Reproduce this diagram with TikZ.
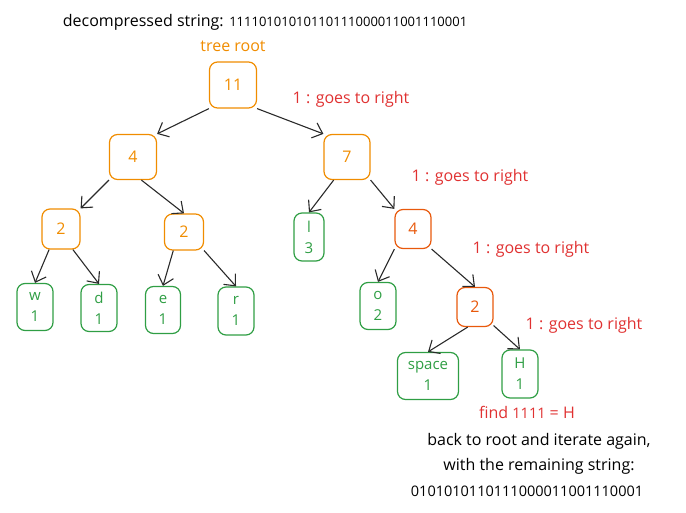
\documentclass[tikz,border=0pt]{standalone}
\usepackage{fontspec}
\setmainfont{Open Sans}
\usepackage{xcolor}
\definecolor{colorInner}{HTML}{F08C00}
\definecolor{colorPath}{HTML}{E8590C}
\definecolor{colorLeaf}{HTML}{2F9E44}
\definecolor{colorNote}{HTML}{E03131}
\definecolor{colorArrow}{HTML}{2A2A2A}
\usetikzlibrary{arrows.meta, positioning}
\newcommand{\bits}[2][14.5]{{\fontsize{#1}{17}\selectfont #2}}
\tikzset{
  box/.style={draw, rounded corners=8pt, line width=1.2pt, align=center, inner sep=0pt},
  inner/.style={box, colorInner, text=colorInner},
  path/.style={box, colorPath, text=colorPath},
  leaf/.style={box, colorLeaf, text=colorLeaf, font=\fontsize{15}{21}\selectfont},
  note/.style={text=colorNote},
}

\begin{document}
\begin{tikzpicture}[x=1pt, y=-1pt, font=\fontsize{16}{20}\selectfont,
  arr/.style={colorArrow, line width=1.1pt, -{Straight Barb[length=9pt, width=16pt]}}]
\useasboundingbox (0,0) rectangle (686,513);
% texts
\node (title) at (265,22) {decompressed string: \bits[13]{11110101010110111000011001110001}};
\node[text=colorInner] (rootlabel) at (233,46) {tree root};
% inner nodes
\node[inner, minimum width=47pt, minimum height=46pt] (n11) at (233,85) {11};
\node[inner, minimum width=47pt, minimum height=45pt] (n4a) at (133,157) {4};
\node[inner, minimum width=46pt, minimum height=45pt] (n7) at (347,157) {7};
\node[inner, minimum width=38pt, minimum height=40pt] (n2a) at (61,229) {2};
\node[inner, minimum width=39pt, minimum height=36pt] (n2b) at (184,232) {2};
\node[path, minimum width=36pt, minimum height=39pt] (n4b) at (413,229) {4};
\node[path, minimum width=36pt, minimum height=39pt] (n2c) at (475,307) {2};
% leaves
\node[leaf, minimum width=36pt, minimum height=47pt] (lw) at (35,307) {w\\1};
\node[leaf, minimum width=36pt, minimum height=47pt] (ld) at (99,308) {d\\1};
\node[leaf, minimum width=35pt, minimum height=47pt] (le) at (163,310) {e\\1};
\node[leaf, minimum width=36pt, minimum height=48pt] (lr) at (236,311) {r\\1};
\node[leaf, minimum width=30pt, minimum height=48pt] (ll) at (309,237) {l\\3};
\node[leaf, minimum width=36pt, minimum height=47pt] (lo) at (378,306) {o\\2};
\node[leaf, minimum width=61pt, minimum height=47pt] (lsp) at (428,376) {space\\1};
\node[leaf, minimum width=36pt, minimum height=48pt] (lh) at (520,374) {H\\1};
% notes
\node[note] (go1) at (351,99) {1 : goes to right};
\node[note] (go2) at (470,177) {1 : goes to right};
\node[note] (go3) at (531,249) {1 : goes to right};
\node[note] (go4) at (584,325) {1 : goes to right};
\node[note] (found) at (527,412) {find \bits{1111} = H};
\node (back) at (539,441) {back to root and iterate again,};
\node (with) at (539,466) {with the remaining string:};
\node (rest) at (527,491) {\bits{0101010110111000011001110001}};
% arrows
\draw[arr] (n11.south west) -- (n4a.north east);
\draw[arr] (n11.south east) -- (n7.north west);
\draw[arr] (n4a.south west) -- (n2a.north east);
\draw[arr] (n4a.-70) -- (n2b.north);
\draw[arr] (n7.-120) -- (ll.north);
\draw[arr] (n7.south east) -- (n4b.north west);
\draw[arr] (n2a.-120) -- (lw.north);
\draw[arr] (n2a.-60) -- (ld.north);
\draw[arr] (n2b.-120) -- (le.north);
\draw[arr] (n2b.south east) -- (lr.north);
\draw[arr] (n4b.south west) -- (lo.north);
\draw[arr] (n4b.south east) -- (n2c.north);
\draw[arr] (n2c.-110) -- (lsp.north);
\draw[arr] (n2c.-45) -- (lh.north);
\end{tikzpicture}
\end{document}
